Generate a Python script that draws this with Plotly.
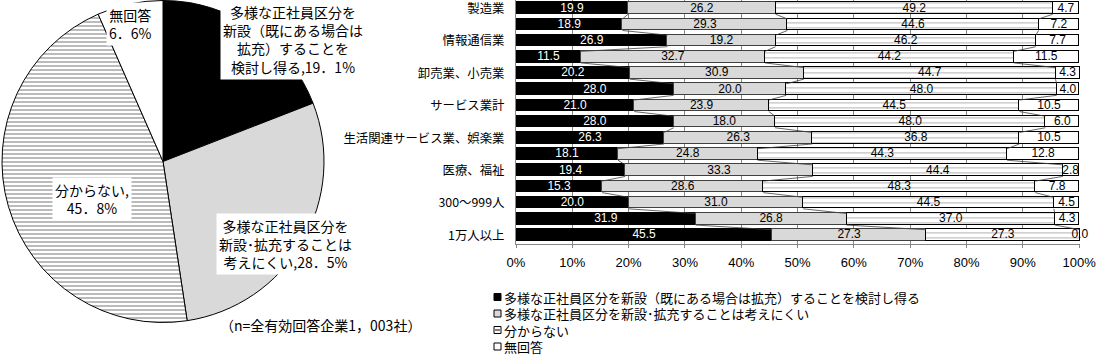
import plotly.graph_objects as go

# ---------------- data ----------------
pie_labels = ["多様な正社員区分を新設（既にある場合は拡充）することを検討し得る",
              "多様な正社員区分を新設･拡充することは考えにくい",
              "分からない", "無回答"]
pie_values = [19.1, 28.5, 45.8, 6.6]

row_labels = ["製造業", "", "情報通信業", "", "卸売業、小売業", "", "サービス業計", "",
              "生活関連サービス業、娯楽業", "", "医療、福祉", "", "300～999人", "", "1万人以上"]
s1 = [19.9, 18.9, 26.9, 11.5, 20.2, 28.0, 21.0, 28.0, 26.3, 18.1, 19.4, 15.3, 20.0, 31.9, 45.5]
s2 = [26.2, 29.3, 19.2, 32.7, 30.9, 20.0, 23.9, 18.0, 26.3, 24.8, 33.3, 28.6, 31.0, 26.8, 27.3]
s3 = [49.2, 44.6, 46.2, 44.2, 44.7, 48.0, 44.5, 48.0, 36.8, 44.3, 44.4, 48.3, 44.5, 37.0, 27.3]
s4 = [4.7, 7.2, 7.7, 11.5, 4.3, 4.0, 10.5, 6.0, 10.5, 12.8, 2.8, 7.8, 4.5, 4.3, 0.0]
x_ticks = [0, 10, 20, 30, 40, 50, 60, 70, 80, 90, 100]
x_ticktext = [f"{v}%" for v in x_ticks]

W, H = 1099, 355
def px(x): return x / W
def py(y): return 1 - y / H

FONT = "Noto Sans CJK JP"
NUMFONT = "Liberation Sans"

fig = go.Figure()

# ---------------- pie ----------------
fig.add_trace(go.Pie(
    labels=pie_labels, values=pie_values, sort=False, direction="clockwise", rotation=0,
    textinfo="none", showlegend=False, hoverinfo="label+value",
    marker=dict(colors=["#000000", "#d9d9d9", "#ffffff", "#ffffff"],
                line=dict(color="#000000", width=1),
                pattern=dict(shape=["", "", "-", ""], fgcolor="#777777", bgcolor="#ffffff",
                             size=4, solidity=0.25)),
    domain=dict(x=[px(2), px(324)], y=[py(323), py(0)]),
))

# ---------------- bars ----------------
ypos = list(range(len(row_labels)))
bw = 0.71
series = [
    (s1, "#000000", "#000000", "", "#ffffff"),
    (s2, "#d9d9d9", "#404040", "", "#000000"),
    (s3, "#ffffff", "#000000", "-", "#000000"),
    (s4, "#ffffff", "#000000", "", "#000000"),
]
base = [0.0] * len(ypos)
for i, (vals, col, lcol, pat, tcol) in enumerate(series):
    fig.add_trace(go.Bar(
        x=vals, y=ypos, orientation="h", width=bw, showlegend=False,
        name=pie_labels[i],
        marker=dict(color=col, line=dict(color=lcol, width=1),
                    pattern=dict(shape=pat, fgcolor="#666666", bgcolor=col, size=5, solidity=0.2)),
        xaxis="x", yaxis="y", hoverinfo="x",
    ))
    mids = [b + v / 2 for b, v in zip(base, vals)]
    fig.add_trace(go.Scatter(
        x=mids, y=ypos, text=[f"{v:.1f}" for v in vals], mode="text",
        textposition="middle center", cliponaxis=False, showlegend=False, hoverinfo="skip",
        textfont=dict(family=NUMFONT, size=12, color=tcol),
    ))
    base = [b + v for b, v in zip(base, vals)]

# series lines (connectors between adjacent bars)
lx, ly = [], []
cums = []
for r in range(len(ypos)):
    c1 = s1[r]; c2 = c1 + s2[r]; c3 = c2 + s3[r]
    cums.append([c1, c2, c3])
for r in range(len(ypos) - 1):
    for k in range(3):
        lx += [cums[r][k], cums[r + 1][k], None]
        ly += [ypos[r] + bw / 2, ypos[r + 1] - bw / 2, None]
fig.add_trace(go.Scatter(x=lx, y=ly, mode="lines", line=dict(color="#404040", width=0.8),
                         showlegend=False, hoverinfo="skip"))

fig.update_layout(
    width=W, height=H, margin=dict(l=0, r=0, t=0, b=0, autoexpand=False),
    paper_bgcolor="white", plot_bgcolor="white",
    barmode="stack", bargap=0,
    font=dict(family=FONT, size=13, color="#000000"),
    xaxis=dict(domain=[px(516), px(1080)], range=[0, 100.15], tickvals=x_ticks, ticktext=x_ticktext,
               showgrid=True, gridcolor="#868686", gridwidth=1, zeroline=False,
               showline=True, linecolor="#868686", linewidth=1,
               ticks="outside", ticklen=3, tickcolor="#868686", automargin=False,
               tickfont=dict(family=NUMFONT, size=13, color="#000000"), ticklabelstandoff=4,
               ticklabeloverflow="allow", fixedrange=True),
    yaxis=dict(domain=[py(243.6), py(0.4)], range=[len(ypos) - 0.5, -0.5],
               tickvals=[p for p, l in zip(ypos, row_labels) if l],
               ticktext=[l for l in row_labels if l], automargin=False,
               showgrid=False, zeroline=False, showline=True, linecolor="#868686", linewidth=1,
               ticks="", ticklabelstandoff=8, ticklabeloverflow="allow",
               tickfont=dict(family=FONT, size=12.4, color="#000000"), fixedrange=True),
)

# ---------------- pie annotations ----------------
def ann(x, y, text, size=14, bg="white"):
    fig.add_annotation(x=px(x), y=py(y), xref="paper", yref="paper", text=text, showarrow=False,
                       align="center", bgcolor=bg, font=dict(family=FONT, size=size, color="#000000"),
                       xanchor="center", yanchor="middle", borderpad=2)

ann(293, 40, "多様な正社員区分を<br>新設（既にある場合は<br>拡充）することを<br>検討し得る,19．1%")
ann(285, 244, "多様な正社員区分を<br>新設･拡充することは<br>考えにくい,28．5%")
ann(92, 199, "分からない,<br>45．8%")
ann(130, 24, "無回答<br>6．6%")
ann(320, 325, "（n=全有効回答企業1，003社）", bg="rgba(0,0,0,0)")

# ---------------- legend (manual) ----------------
leg_y = [297, 313.5, 330, 346.5]
fills = ["#000000", "#d9d9d9", "#ffffff", "#ffffff"]
for i, yy in enumerate(leg_y):
    fig.add_shape(type="rect", xref="paper", yref="paper",
                  x0=px(494), x1=px(501), y0=py(yy + 3.5), y1=py(yy - 3.5),
                  fillcolor=fills[i], line=dict(color="#000000", width=1))
    if i == 2:
        fig.add_shape(type="line", xref="paper", yref="paper",
                      x0=px(495), x1=px(500), y0=py(yy), y1=py(yy),
                      line=dict(color="#000000", width=1))
    fig.add_annotation(x=px(503), y=py(yy), xref="paper", yref="paper", text=pie_labels[i],
                       showarrow=False, xanchor="left", yanchor="middle", borderpad=0,
                       font=dict(family=FONT, size=13, color="#000000"))

fig.write_html("out.html")
